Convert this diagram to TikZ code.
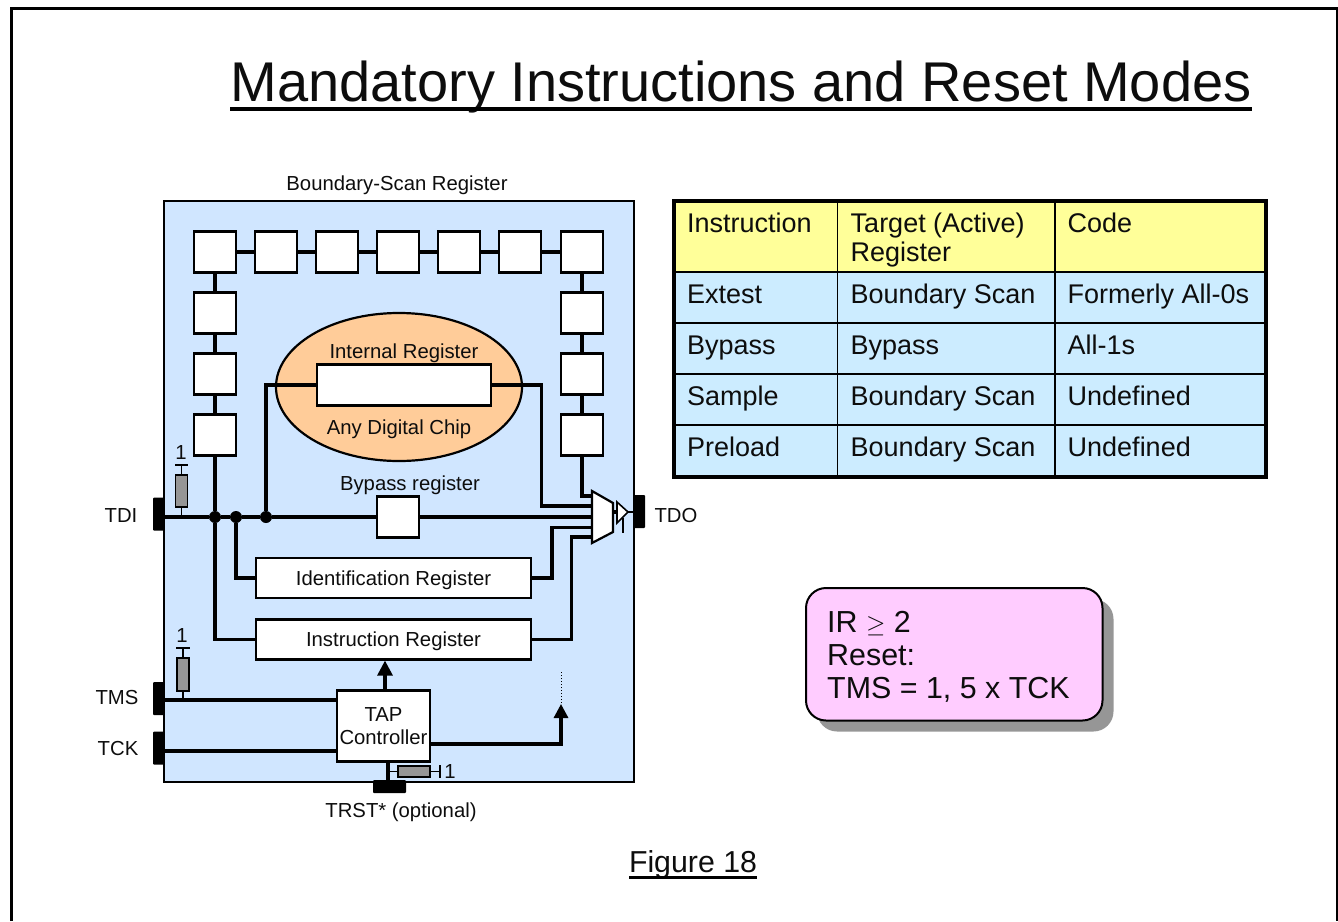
\documentclass[tikz,border=0pt]{standalone}
\usepackage{fontspec}
\setmainfont{Liberation Sans}
\usetikzlibrary{shapes.geometric,arrows.meta}
\definecolor{panelblue}{HTML}{D0E6FF}
\definecolor{cellblue}{HTML}{CCECFF}
\definecolor{cellyellow}{HTML}{FFFF99}
\definecolor{chiporange}{HTML}{FFCC99}
\definecolor{notepink}{HTML}{FFCCFF}
\definecolor{resgray}{HTML}{969696}
\begin{document}
\begin{tikzpicture}[x=1pt,y=-1pt]
	\tikzstyle{every node}+=[inner sep=0pt,text=black!95]
	\tikzstyle{wire}=[black,line width=3.1pt]
	\tikzstyle{box}=[draw=black,line width=2.2pt,fill=white,font=\fontsize{20.3}{22.5}\selectfont,align=center]
	\tikzstyle{cell}=[box,minimum width=42pt,minimum height=41pt]
	\tikzstyle{regbox}=[box,minimum width=275pt,minimum height=40pt,text height=14.5pt,text depth=0pt]
	\tikzstyle{pad}=[fill=black,rounded corners=1pt]
	\tikzstyle{res}=[draw=black,line width=1.8pt,fill=resgray]
	\tikzstyle{dot}=[circle,fill=black,minimum size=12pt]
	\tikzstyle{lab}=[font=\fontsize{20.3}{23}\selectfont]
	\tikzstyle{tab}=[font=\fontsize{27}{29}\selectfont,anchor=base west,align=left]
	\useasboundingbox (0,0) rectangle (1338,921);
	\draw [black,line width=3pt] (11,921) -- (11,8) -- (1337,8) -- (1337,921);
	\node [font=\fontsize{56}{60}\selectfont,anchor=base] (title) at (741,101) {Mandatory Instructions and Reset Modes};
	\draw [black,line width=4.4pt] (230,109) -- (1252,109);
	\node [lab] (bsrlabel) at (397,185) {Boundary-Scan Register};
	\fill [panelblue] (164,201) rectangle (634,782);
	\draw [black,line width=2pt] (164,201) rectangle (634,782);
	\node [pad,minimum width=11pt,minimum height=33pt] (tdipad) at (158.5,514) {};
	\node [pad,minimum width=11pt,minimum height=33pt] (tmspad) at (158.5,698.5) {};
	\node [pad,minimum width=11pt,minimum height=33pt] (tckpad) at (158.5,748) {};
	\node [pad,minimum width=11pt,minimum height=33pt] (tdopad) at (639.5,511.5) {};
	\node [pad,minimum width=33pt,minimum height=13pt] (trstpad) at (389.5,786.5) {};
	\node [lab] (tdilabel) at (121,516) {TDI};
	\node [lab] (tmslabel) at (117,698) {TMS};
	\node [lab] (tcklabel) at (118,749) {TCK};
	\node [lab] (tdolabel) at (676,516) {TDO};
	\node [lab] (trstlabel) at (401,812.5) {TRST* (optional)};
	\node [draw=black,line width=2.2pt,ellipse,fill=chiporange,minimum width=246pt,minimum height=148pt] (chip) at (399,387) {};
	\node [cell] (b1) at (215,252) {};
	\node [cell] (b2) at (276,252) {};
	\node [cell] (b3) at (337,252) {};
	\node [cell] (b4) at (398,252) {};
	\node [cell] (b5) at (459,252) {};
	\node [cell] (b6) at (520,252) {};
	\node [cell] (b7) at (582,252) {};
	\node [cell] (l1) at (215,313) {};
	\node [cell] (l2) at (215,374) {};
	\node [cell] (l3) at (215,435) {};
	\node [cell] (r1) at (582,313) {};
	\node [cell] (r2) at (582,374) {};
	\node [cell] (r3) at (582,435) {};
	\node [cell] (bypass) at (398,517) {};
	\node [box,minimum width=174pt,minimum height=41pt] (internal) at (404,385) {};
	\node [lab] (internallabel) at (404,353.5) {Internal Register};
	\node [lab] (chiplabel) at (399,429.5) {Any Digital Chip};
	\node [lab] (bypasslabel) at (410,485.5) {Bypass register};
	\node [regbox] (idreg) at (393.5,578) {Identification Register};
	\node [regbox] (irreg) at (393.5,639.5) {Instruction Register};
	\node [box,minimum width=93pt,minimum height=71pt,text depth=0pt] (tap) at (383.5,726) {TAP\\Controller};
	\coordinate (muxa) at (592,491);
	\coordinate (muxb) at (613,503);
	\coordinate (muxc) at (613,532);
	\coordinate (muxd) at (592,543);
	\coordinate (bufa) at (617,502);
	\coordinate (bufb) at (628,512);
	\coordinate (bufc) at (617,523);
	\node [dot] (d1) at (215,517) {};
	\node [dot] (d2) at (236,517) {};
	\node [dot] (d3) at (266,517) {};
	\draw [wire] (b1) -- (b2);
	\draw [wire] (b2) -- (b3);
	\draw [wire] (b3) -- (b4);
	\draw [wire] (b4) -- (b5);
	\draw [wire] (b5) -- (b6);
	\draw [wire] (b6) -- (b7);
	\draw [wire] (b1) -- (l1);
	\draw [wire] (l1) -- (l2);
	\draw [wire] (l2) -- (l3);
	\draw [wire] (b7) -- (r1);
	\draw [wire] (r1) -- (r2);
	\draw [wire] (r2) -- (r3);
	\draw [wire] (l3) -- (d1);
	\draw [wire] (tdipad.east |- d1) -- (d1) -- (d2) -- (d3) -- (bypass);
	\draw [wire] (d1) |- (irreg.west);
	\draw [wire] (d2) |- (idreg.west);
	\draw [wire] (d3) |- (internal.west);
	\draw [wire] (r3) |- (592,496);
	\draw [wire] (internal.east) -- (541.5,385) |- (592,506);
	\draw [wire] (bypass) -- (592,517);
	\draw [wire] (idreg.east) -- (552,578) |- (592,527.5);
	\draw [wire] (irreg.east) -- (571.5,639.5) |- (592,537);
	\filldraw [black,fill=white,line width=2.2pt] (muxa) -- (muxb) -- (muxc) -- (muxd) -- cycle;
	\draw [wire] (613,512) -- (bufa |- bufb);
	\filldraw [black,fill=white,line width=1.6pt] (bufa) -- (bufb) -- (bufc) -- cycle;
	\draw [black,line width=1.4pt] (623,518) -- (623,533);
	\draw [black,line width=1.4pt] (bufb) -- (tdopad.west |- bufb);
	\node [res,minimum width=12pt,minimum height=32pt] (restdi) at (181.5,491) {};
	\coordinate (captdi) at (181.5,465);
	\draw [black,line width=1.8pt] (181.5,517) -- (restdi);
	\draw [black,line width=1.8pt] (restdi) -- (captdi);
	\draw [black,line width=1.8pt] (175,465) -- (188,465);
	\node [lab] (onetdi) at (181,453) {1};
	\node [res,minimum width=12pt,minimum height=33pt] (restms) at (183,674.5) {};
	\coordinate (captms) at (183,648);
	\draw [black,line width=1.8pt] (183,700) -- (restms);
	\draw [black,line width=1.8pt] (restms) -- (captms);
	\draw [black,line width=1.8pt] (176,648) -- (190,648);
	\node [lab] (onetms) at (182,636) {1};
	\node [res,minimum width=32pt,minimum height=11pt] (restrst) at (414,771.5) {};
	\coordinate (captrst) at (440,771.5);
	\draw [black,line width=1.8pt] (386,771.5) -- (restrst);
	\draw [black,line width=1.8pt] (restrst) -- (captrst);
	\draw [black,line width=1.8pt] (440,765) -- (440,778);
	\node [lab] (onetrst) at (450,772) {1};
	\draw [wire] (tmspad.east |- 0,700) -- (tap.west |- 0,700);
	\draw [wire] (tckpad.east |- 0,751) -- (tap.west |- 0,751);
	\draw [wire] (tap.south -| 388,0) -- (trstpad.north -| 388,0);
	\draw [wire,-{Triangle[length=15pt,width=15pt]}] (tap.north -| 385,0) -- (irreg.south -| 385,0);
	\coordinate (clockup) at (561,704);
	\draw [wire,-{Triangle[length=14pt,width=14pt]}] (tap.east |- 0,744) -| (clockup);
	\draw [black,line width=1pt,dotted] (561,703) -- (561,672);
	\draw [black,line width=3.5pt,fill=cellblue] (674,201) rectangle (1266,477);
	\fill [cellyellow] (674,201) rectangle (1266,272);
	\draw [black,line width=1.6pt] (674,272) -- (1266,272);
	\draw [black,line width=1.6pt] (674,323) -- (1266,323);
	\draw [black,line width=1.6pt] (674,374) -- (1266,374);
	\draw [black,line width=1.6pt] (674,425) -- (1266,425);
	\draw [black,line width=1.6pt] (837.5,201) -- (837.5,477);
	\draw [black,line width=1.6pt] (1055,201) -- (1055,477);
	\draw [black,line width=3.5pt] (674,201) rectangle (1266,477);
	\node [tab] (t11) at (687,232) {Instruction};
	\node [tab] (t12) at (850.5,232) {Target (Active)};
	\node [tab] (t12b) at (850.5,261) {Register};
	\node [tab] (t13) at (1067.5,232) {Code};
	\node [tab] (t21) at (687,303) {Extest};
	\node [tab] (t22) at (850.5,303) {Boundary Scan};
	\node [tab] (t23) at (1067.5,303) {Formerly All-0s};
	\node [tab] (t31) at (687,354) {Bypass};
	\node [tab] (t32) at (850.5,354) {Bypass};
	\node [tab] (t33) at (1067.5,354) {All-1s};
	\node [tab] (t41) at (687,405) {Sample};
	\node [tab] (t42) at (850.5,405) {Boundary Scan};
	\node [tab] (t43) at (1067.5,405) {Undefined};
	\node [tab] (t51) at (687,456) {Preload};
	\node [tab] (t52) at (850.5,456) {Boundary Scan};
	\node [tab] (t53) at (1067.5,456) {Undefined};
	\fill [resgray,rounded corners=20pt] (817,599) rectangle (1113.5,731.5);
	\draw [black,line width=2pt,fill=notepink,rounded corners=20pt] (806,588) rectangle (1102.5,720.5);
	\node [font=\fontsize{30.4}{33}\selectfont,anchor=base west] (note) at (827,632) {IR $\geq$ 2};
	\node [font=\fontsize{30.4}{33}\selectfont,anchor=base west] (noteb) at (827,665) {Reset:};
	\node [font=\fontsize{30.4}{33}\selectfont,anchor=base west] (notec) at (827,698) {TMS = 1, 5 x TCK};
	\node [font=\fontsize{30.3}{33}\selectfont,anchor=base] (figlabel) at (693,872) {Figure 18};
	\draw [black,line width=3pt] (629,877.5) -- (757,877.5);
\end{tikzpicture}
\end{document}
